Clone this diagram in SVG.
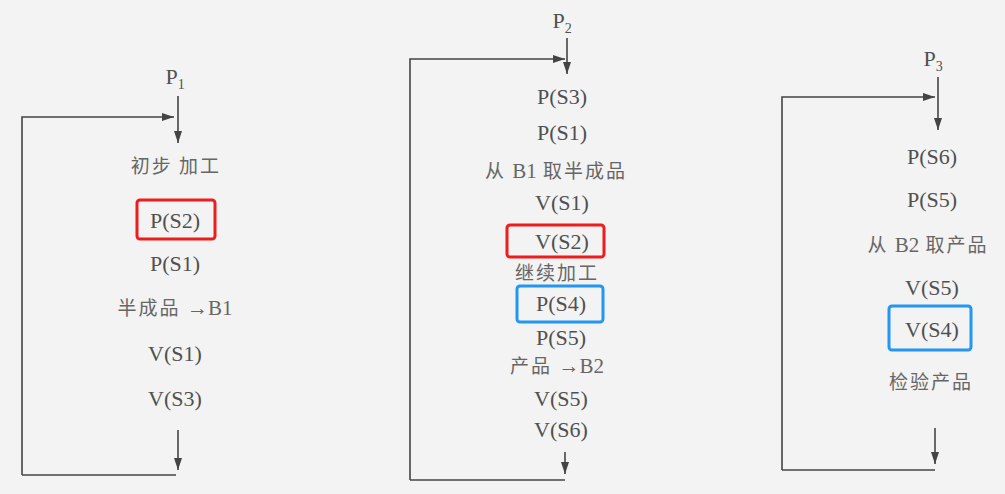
<svg xmlns="http://www.w3.org/2000/svg" width="1005" height="494" viewBox="0 0 1005 494">
<style>
.t{font-family:'Liberation Serif','Times New Roman',serif;font-size:22px;fill:#505050;text-anchor:middle}
.c{font-family:'Noto Sans CJK SC',sans-serif;font-size:19px;fill:#666;text-anchor:middle;letter-spacing:2px}
.l{font-family:'Liberation Serif','Times New Roman',serif;font-size:21px;letter-spacing:0}
.sub{font-size:14px}
.ln{fill:none;stroke:#444;stroke-width:1.6}
.red{fill:none;stroke:#ee1c1c;stroke-width:3}
.blue{fill:none;stroke:#2196f3;stroke-width:3}
</style>
<defs>
<marker id="ah" viewBox="0 0 12 8" refX="12" refY="4" markerWidth="12" markerHeight="8" markerUnits="userSpaceOnUse" orient="auto">
<path d="M0,0 L12,4 L0,8 Z" fill="#444"/>
</marker>
</defs>
<rect width="1005" height="494" fill="#f3f3f3"/>
<g id="connectors">
<path class="ln" d="M178,96 V143" marker-end="url(#ah)"/>
<path class="ln" d="M22,475 V117 H174" marker-end="url(#ah)"/>
<path class="ln" d="M22,475 H176"/>
<path class="ln" d="M178,430 V470" marker-end="url(#ah)"/>
<path class="ln" d="M567,38 V74" marker-end="url(#ah)"/>
<path class="ln" d="M410,480 V59 H565" marker-end="url(#ah)"/>
<path class="ln" d="M410,480 H565"/>
<path class="ln" d="M565,452 V474" marker-end="url(#ah)"/>
<path class="ln" d="M938,77 V130" marker-end="url(#ah)"/>
<path class="ln" d="M782,470 V97 H935" marker-end="url(#ah)"/>
<path class="ln" d="M782,470 H935"/>
<path class="ln" d="M935,428 V464" marker-end="url(#ah)"/>
</g>
<g id="p1">
<text class="t" x="175" y="84">P<tspan class="sub" dy="5">1</tspan></text>
<text class="c" x="176" y="173">初步 加工</text>
<g id="p1-ps2"><rect class="red" x="137" y="200" width="78" height="39" rx="3"/><text class="t" x="175" y="228">P(S2)</text></g>
<text class="t" x="175" y="271">P(S1)</text>
<text class="c" x="175" y="315">半成品 <tspan class="l">→B1</tspan></text>
<text class="t" x="175" y="361">V(S1)</text>
<text class="t" x="175" y="406">V(S3)</text>
</g>
<g id="p2">
<text class="t" x="562" y="28">P<tspan class="sub" dy="5">2</tspan></text>
<text class="t" x="562" y="104">P(S3)</text>
<text class="t" x="562" y="140">P(S1)</text>
<text class="c" x="556" y="178">从 <tspan class="l">B1</tspan> 取半成品</text>
<text class="t" x="562" y="210">V(S1)</text>
<g id="p2-vs2"><rect class="red" x="507" y="225" width="97" height="32" rx="3"/><text class="t" x="562" y="249">V(S2)</text></g>
<text class="c" x="557" y="280">继续加工</text>
<g id="p2-ps4"><rect class="blue" x="517" y="286" width="86" height="36" rx="3"/><text class="t" x="561" y="311">P(S4)</text></g>
<text class="t" x="561" y="345">P(S5)</text>
<text class="c" x="557" y="373">产品 <tspan class="l">→B2</tspan></text>
<text class="t" x="561" y="406">V(S5)</text>
<text class="t" x="561" y="437">V(S6)</text>
</g>
<g id="p3">
<text class="t" x="933" y="66">P<tspan class="sub" dy="5">3</tspan></text>
<text class="t" x="932" y="164">P(S6)</text>
<text class="t" x="932" y="207">P(S5)</text>
<text class="c" x="928" y="252">从 <tspan class="l">B2</tspan> 取产品</text>
<text class="t" x="932" y="295">V(S5)</text>
<g id="p3-vs4"><rect class="blue" x="889" y="306" width="82" height="44" rx="3"/><text class="t" x="932" y="337">V(S4)</text></g>
<text class="c" x="931" y="389">检验产品</text>
</g>
</svg>
